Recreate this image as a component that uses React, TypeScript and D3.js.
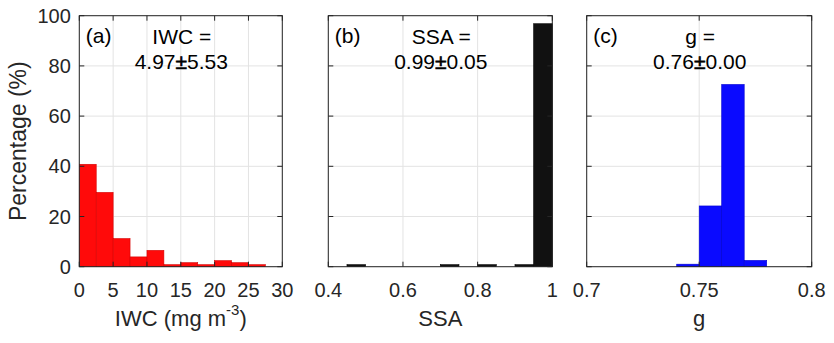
import React, { useEffect, useRef } from "react";
import * as d3 from "d3";

// histogram bins (left edges) and percentages
const iwcBinStart = [0, 2.5, 5, 7.5, 10, 12.5, 15, 17.5, 20, 22.5, 25];
const iwcPct = [40.8, 29.6, 11.2, 3.9, 6.5, 0.8, 1.6, 0.8, 2.4, 1.6, 0.8];
const iwcBinWidth = 2.5;

const ssaBinStart = [0.45, 0.7, 0.8, 0.9, 0.95];
const ssaPct = [0.8, 0.8, 0.8, 0.8, 96.8];
const ssaBinWidth = 0.05;

const gBinStart = [0.74, 0.75, 0.76, 0.77];
const gPct = [1.0, 24.2, 72.6, 2.5];
const gBinWidth = 0.01;

const yTicks = [0, 20, 40, 60, 80, 100];
const iwcTicks = [0, 5, 10, 15, 20, 25, 30];
const ssaTicks = [0.4, 0.6, 0.8, 1];
const gTicks = [0.7, 0.75, 0.8];

const FONT = "'Liberation Sans', Arial, Helvetica, sans-serif";

const panels = [
  {
    tag: "(a)", title: "IWC =", mean: "4.97", sd: "5.53",
    left: 79.3, right: 282.3, domain: [0, 30], ticks: iwcTicks,
    bins: iwcBinStart, pct: iwcPct, bw: iwcBinWidth,
    fill: "#ff0a0a", stroke: "#d40000", xlabel: "iwc", yLabels: true,
  },
  {
    tag: "(b)", title: "SSA =", mean: "0.99", sd: "0.05",
    left: 328.3, right: 552.3, domain: [0.4, 1], ticks: ssaTicks,
    bins: ssaBinStart, pct: ssaPct, bw: ssaBinWidth,
    fill: "#111111", stroke: "#000000", xlabel: "SSA", yLabels: false,
  },
  {
    tag: "(c)", title: "g =", mean: "0.76", sd: "0.00",
    left: 586.7, right: 811.7, domain: [0.7, 0.8], ticks: gTicks,
    bins: gBinStart, pct: gPct, bw: gBinWidth,
    fill: "#0a0aff", stroke: "#0000d0", xlabel: "g", yLabels: false,
  },
];

const App = () => {
  const ref = useRef<HTMLDivElement>(null);

  useEffect(() => {
    const top = 15.7, bottom = 266.7;
    d3.select(ref.current).select("svg").remove();

    const svg = d3.select(ref.current)
      .append("svg")
      .attr("width", 834)
      .attr("height", 343)
      .style("position", "absolute")
      .style("left", "0px")
      .style("top", "0px")
      .style("background", "#fff")
      .style("font-family", FONT);

    const y = d3.scaleLinear().domain([0, 100]).range([bottom, top]);

    panels.forEach(p => {
      const x = d3.scaleLinear().domain(p.domain).range([p.left, p.right]);
      const g = svg.append("g");

      // grid
      g.selectAll(".gx").data(p.ticks).enter().append("line")
        .attr("x1", d => x(d)).attr("x2", d => x(d))
        .attr("y1", top).attr("y2", bottom)
        .attr("stroke", "#e3e3e3").attr("stroke-width", 1);
      g.selectAll(".gy").data(yTicks).enter().append("line")
        .attr("x1", p.left).attr("x2", p.right)
        .attr("y1", d => y(d)).attr("y2", d => y(d))
        .attr("stroke", "#e3e3e3").attr("stroke-width", 1);

      // bars
      g.selectAll(".bar").data(p.bins).enter().append("rect")
        .attr("x", d => x(d))
        .attr("width", d => x(d + p.bw) - x(d))
        .attr("y", (d, i) => y(p.pct[i]))
        .attr("height", (d, i) => y(0) - y(p.pct[i]))
        .attr("fill", p.fill)
        .attr("stroke", p.stroke)
        .attr("stroke-width", 0.6);

      // ticks (inward, all four sides)
      const tl = 5;
      p.ticks.forEach(t => {
        g.append("line").attr("x1", x(t)).attr("x2", x(t))
          .attr("y1", bottom).attr("y2", bottom - tl)
          .attr("stroke", "#262626");
        g.append("line").attr("x1", x(t)).attr("x2", x(t))
          .attr("y1", top).attr("y2", top + tl)
          .attr("stroke", "#262626");
      });
      yTicks.forEach(t => {
        g.append("line").attr("x1", p.left).attr("x2", p.left + tl)
          .attr("y1", y(t)).attr("y2", y(t)).attr("stroke", "#262626");
        g.append("line").attr("x1", p.right).attr("x2", p.right - tl)
          .attr("y1", y(t)).attr("y2", y(t)).attr("stroke", "#262626");
      });

      // box
      g.append("rect")
        .attr("x", p.left).attr("y", top)
        .attr("width", p.right - p.left).attr("height", bottom - top)
        .attr("fill", "none").attr("stroke", "#262626").attr("stroke-width", 1);

      // x tick labels
      g.selectAll(".xl").data(p.ticks).enter().append("text")
        .attr("x", d => x(d)).attr("y", 296.7)
        .attr("text-anchor", "middle")
        .attr("font-size", 20).attr("fill", "#262626")
        .text(d => String(d));

      if (p.yLabels) {
        g.selectAll(".yl").data(yTicks).enter().append("text")
          .attr("x", p.left - 8.5).attr("y", d => y(d) + 7)
          .attr("text-anchor", "end")
          .attr("font-size", 20).attr("fill", "#262626")
          .text(d => String(d));
      }

      // x labels
      const cx = (p.left + p.right) / 2;
      if (p.xlabel === "iwc") {
        const t = g.append("text").attr("x", cx).attr("y", 326)
          .attr("text-anchor", "middle").attr("font-size", 22).attr("fill", "#262626");
        t.append("tspan").text("IWC (mg m");
        t.append("tspan").attr("font-size", 15).attr("dy", -11).text("-3");
        t.append("tspan").attr("dy", 11).text(")");
      } else {
        g.append("text").attr("x", cx).attr("y", 326)
          .attr("text-anchor", "middle").attr("font-size", 22).attr("fill", "#262626")
          .text(p.xlabel);
      }

      // annotations
      g.append("text").attr("x", p.left + 6.5).attr("y", 43)
        .attr("font-size", 21).attr("fill", "#000").text(p.tag);
      g.append("text").attr("x", cx + 1).attr("y", 44.3)
        .attr("text-anchor", "middle").attr("font-size", 21).attr("fill", "#000").text(p.title);
      const st = g.append("text").attr("x", cx + 0.5).attr("y", 68.5)
        .attr("text-anchor", "middle").attr("font-size", 21).attr("fill", "#000");
      st.append("tspan").text(p.mean);
      st.append("tspan").attr("stroke", "#000").attr("stroke-width", 0.6).text("\u00b1");
      st.append("tspan").text(p.sd);
    });

    svg.append("text")
      .attr("transform", `translate(26,${(top + bottom) / 2}) rotate(-90)`)
      .attr("text-anchor", "middle")
      .attr("font-size", 23).attr("fill", "#262626")
      .text("Percentage (%)");
  }, []);

  return <div ref={ref}></div>;
};

export default App;
